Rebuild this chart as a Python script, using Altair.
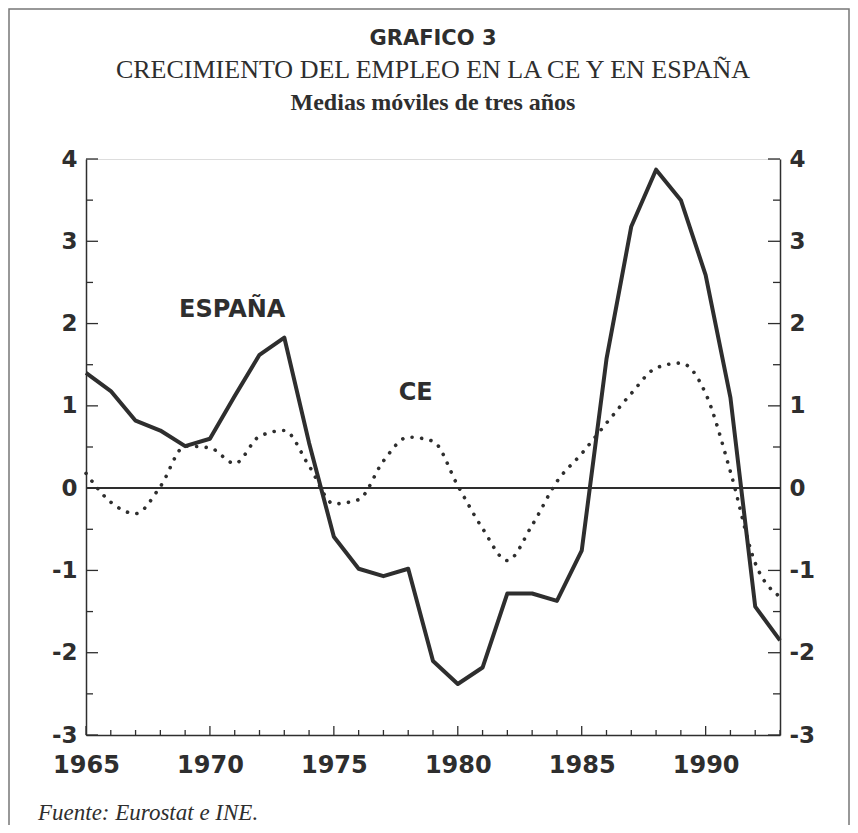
import altair as alt
import pandas as pd

# ---- data ----
years = list(range(1965, 1994))
espana = [1.40, 1.18, 0.82, 0.70, 0.51, 0.60, 1.12, 1.62, 1.83, 0.55,
          -0.59, -0.98, -1.07, -0.98, -2.10, -2.38, -2.18, -1.28, -1.28, -1.37,
          -0.76, 1.57, 3.18, 3.87, 3.50, 2.59, 1.10, -1.44, -1.85]
ce = [0.18, -0.17, -0.31, 0.02, 0.51, 0.49, 0.30, 0.63, 0.70, 0.27,
      -0.19, -0.14, 0.33, 0.62, 0.57, 0.03, -0.49, -0.88, -0.45, 0.08,
      0.42, 0.79, 1.15, 1.46, 1.52, 1.15, 0.20, -0.91, -1.32]
x_labels = [1965, 1970, 1975, 1980, 1985, 1990]
y_major = [-3, -2, -1, 0, 1, 2, 3, 4]
y_minor = [-2.5, -1.5, -0.5, 0.5, 1.5, 2.5, 3.5]
series_labels = ["ESPAÑA", "CE"]
label_year = [1970.9, 1978.3]
label_value = [2.16, 1.16]

INK = "#2e2e2e"
W, H = 694, 576
AX_FONT = "DejaVu Sans"

df = pd.DataFrame({"year": years, "ESPAÑA": espana, "CE": ce})
xs = alt.Scale(domain=[1965, 1993], nice=False, zero=False)
ys = alt.Scale(domain=[-3, 4], nice=False, zero=False)

axis_common = dict(ticks=False, grid=False, domainColor=INK, domainWidth=1.5,
                   labelFont=AX_FONT, labelFontWeight="bold",
                   labelColor=INK, title=None)

X_ENC = alt.X("year:Q", scale=xs,
              axis=alt.Axis(values=x_labels, format="d", labelPadding=18,
                            labelFlush=False, labelFontSize=24, **axis_common))

esp = alt.Chart(df).mark_line(color=INK, strokeWidth=4, strokeJoin="round").encode(
    x=X_ENC,
    y=alt.Y("ESPAÑA:Q", scale=ys,
            axis=alt.Axis(orient="left", values=y_major, labelPadding=9,
                          labelFontSize=23, labelExpr="'' + datum.value", **axis_common)),
)

ce_line = alt.Chart(df).mark_line(color=INK, strokeWidth=3.6, strokeDash=[0.1, 9.5],
                                  strokeCap="round", interpolate="monotone").encode(
    x=X_ENC,
    y=alt.Y("CE:Q", scale=ys,
            axis=alt.Axis(orient="right", values=y_major, labelPadding=9,
                          labelFontSize=23, labelExpr="'' + datum.value", **axis_common)),
)

zero = alt.Chart(df).mark_rule(color=INK, strokeWidth=1.5).encode(
    y=alt.YDatum(0, scale=ys, axis=None)
)

tick_df_major = pd.DataFrame({"v": y_major})
tick_df_minor = pd.DataFrame({"v": y_minor})
tick_x_major = pd.DataFrame({"year": [y for y in years if y % 5 == 0]})
tick_x_minor = pd.DataFrame({"year": [y for y in years if y % 5 != 0]})


def ytick(d, x0, x1):
    return alt.Chart(d).mark_rule(color=INK, strokeWidth=1.3).encode(
        y=alt.Y("v:Q", scale=ys, axis=None), x=alt.value(x0), x2=alt.value(x1))


def xtick(d, ln):
    return alt.Chart(d).mark_rule(color=INK, strokeWidth=1.3).encode(
        x=X_ENC, y=alt.value(H), y2=alt.value(H - ln))


lab_df = pd.DataFrame({"year": label_year, "v": label_value, "label": series_labels})
labels = alt.Chart(lab_df).mark_text(font=AX_FONT, fontSize=24, fontWeight="bold",
                                     color=INK).encode(
    x=X_ENC,
    y=alt.Y("v:Q", scale=ys, axis=None),
    text="label:N",
)

source = alt.Chart(pd.DataFrame({"t": ["Fuente: Eurostat e INE."]})).mark_text(
    font="Liberation Serif", fontSize=23, fontStyle="italic",
    color=INK, align="left", baseline="middle").encode(
    x=alt.value(-48), y=alt.value(654), text="t:N")

sub2 = alt.Chart(pd.DataFrame({"t": ["Medias móviles de tres años"]})).mark_text(
    font="Liberation Serif", fontSize=24, fontWeight="bold", color=INK,
    align="center", baseline="middle").encode(
    x=alt.value(W / 2), y=alt.value(-56), text="t:N")

frame = alt.Chart(pd.DataFrame({"f": [0]})).mark_rect(
    fill="white", fillOpacity=0, stroke="#777777", strokeWidth=1.5).encode(
    x=alt.value(-77), x2=alt.value(763), y=alt.value(-150), y2=alt.value(700))

chart = alt.layer(
    frame, zero, esp, ce_line,
    ytick(tick_df_major, 0, 12), ytick(tick_df_minor, 0, 7),
    ytick(tick_df_major, W, W - 12), ytick(tick_df_minor, W, W - 7),
    xtick(tick_x_major, 9), xtick(tick_x_minor, 5),
    labels, source, sub2,
).resolve_scale(y="independent").properties(
    width=W, height=H,
    title=alt.Title("GRAFICO 3", subtitle=["CRECIMIENTO DEL EMPLEO EN LA CE Y EN ESPAÑA"],
                    font=AX_FONT, fontSize=21, fontWeight="bold", color=INK,
                    subtitleFont="Liberation Serif", subtitleFontSize=26,
                    subtitleColor=INK, subtitlePadding=8, anchor="middle", offset=-75),
    autosize=alt.AutoSizeParams(type="none"),
    padding={"left": 78, "top": 151, "right": 70, "bottom": 90},
).configure_view(stroke=None).configure(background="white")

chart.save("out.html", embed_options={"renderer": "svg", "actions": False})
